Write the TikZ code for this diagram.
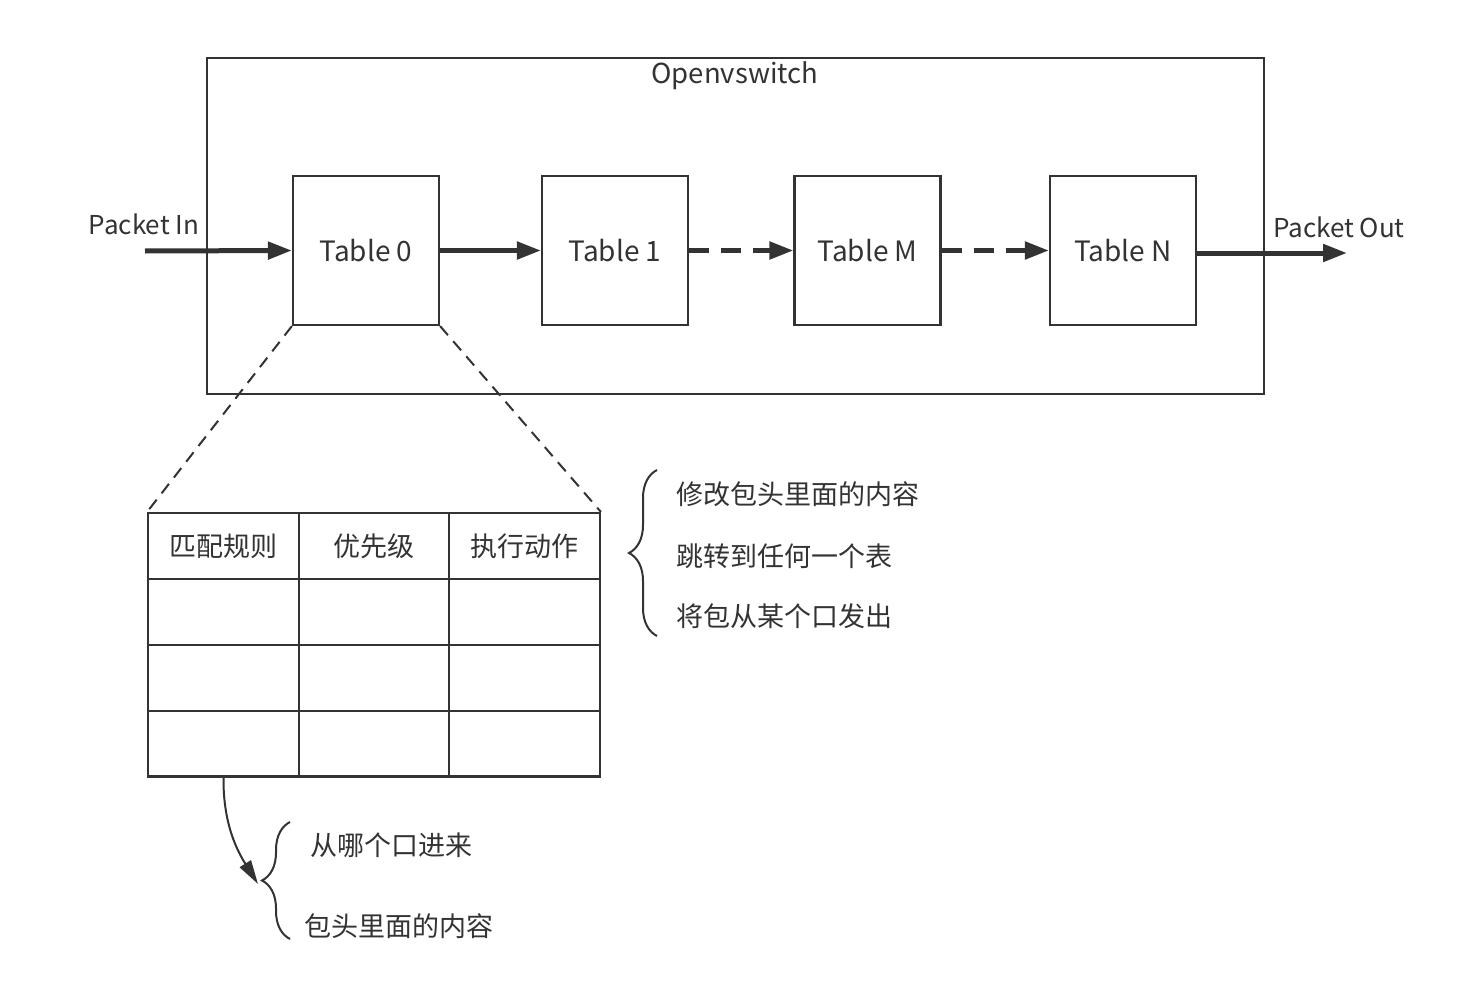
\documentclass[tikz,border=0pt]{standalone}
\usepackage{fontspec}
\setmainfont{Noto Sans CJK SC}
\usetikzlibrary{arrows.meta,decorations.pathreplacing}
\definecolor{lc}{HTML}{333333}
\definecolor{tc}{HTML}{333333}
\begin{document}
\begin{tikzpicture}[x=1pt,y=-1pt,
  txt/.style={inner sep=0pt,text=tc,font=\fontsize{26}{30}\selectfont},
  cjk/.style={inner sep=0pt,text=tc,font=\fontsize{27}{30}\selectfont},
  tbl/.style={draw=lc,line width=2.2pt,minimum width=146pt,minimum height=149pt,inner sep=0pt,text=tc,font=\fontsize{28}{30}\selectfont},
  cell/.style={draw=lc,line width=2.2pt,minimum width=150.7pt,minimum height=65.8pt,inner sep=0pt},
  flow/.style={draw=lc,line width=5pt,-{Triangle[length=24pt,width=17pt]}},
  dflow/.style={flow,dash pattern=on 20pt off 12pt},
  zoomline/.style={draw=lc,line width=2pt,dash pattern=on 12pt off 8pt},
  bracket/.style={draw=lc,line width=2pt,decorate,decoration={brace,amplitude=28pt}},
  thin arrow/.style={draw=lc,line width=2pt,-{Triangle[length=24pt,width=13pt]}}
]
\useasboundingbox (0,0) rectangle (1460,982);
% outer box
\node[draw=lc,line width=2.2pt,minimum width=1057pt,minimum height=336pt,inner sep=0pt] (ovs) at (735.5,226) {};
\node[txt,font=\fontsize{27.5}{30}\selectfont] (ovslabel) at (735,76) {Openvswitch};
% tables
\node[tbl] (t0) at (366,250.5) {Table 0};
\node[tbl] (t1) at (615,250.5) {Table 1};
\node[tbl] (tM) at (867.5,250.5) {Table M};
\node[tbl] (tN) at (1123,250.5) {Table N};
% in / out
\coordinate (pin) at (145,251);
\coordinate (pout) at (1347,253);
\node[txt] (pinlabel) at (144,224) {Packet In};
\node[txt] (poutlabel) at (1339,227) {Packet Out};
\draw[flow] (pin) -- (t0.west);
\draw[flow] (t0.east) -- (t1.west);
\draw[dflow] (t1.east) -- (tM.west);
\draw[dflow] (tM.east) -- (tN.west);
\draw[flow] (tN.east |- pout) -- (pout);
% flow table grid
\foreach \c/\x in {1/223.5,2/374,3/524.5}{
  \foreach \r/\y in {1/546,2/612,3/678,4/743.5}{
    \node[cell] (c\r\c) at (\x,\y) {};
  }
}
\node[cjk] (h1) at (c11) {匹配规则};
\node[cjk] (h2) at (c12) {优先级};
\node[cjk] (h3) at (c13) {执行动作};
% zoom lines
\draw[zoomline] (t0.south west) -- (c11.north west);
\draw[zoomline] (t0.south east) -- (c13.north east);
% action brace
\coordinate (b1top) at (657,470);
\coordinate (b1bot) at (657,636);
\draw[bracket] (b1bot) -- (b1top);
\node[cjk,anchor=west] (a1) at (676,494) {修改包头里面的内容};
\node[cjk,anchor=west] (a2) at (676,556) {跳转到任何一个表};
\node[cjk,anchor=west] (a3) at (676,616) {将包从某个口发出};
% match brace
\coordinate (b2top) at (290,822);
\coordinate (b2bot) at (290,939);
\draw[bracket] (b2bot) -- (b2top);
\coordinate (b2tip) at (258,884);
\draw[thin arrow] (c41.south) .. controls (223,825) and (238,852) .. (b2tip);
\node[cjk,anchor=west] (m1) at (310,845) {从哪个口进来};
\node[cjk,anchor=west] (m2) at (304,926) {包头里面的内容};
\end{tikzpicture}
\end{document}
